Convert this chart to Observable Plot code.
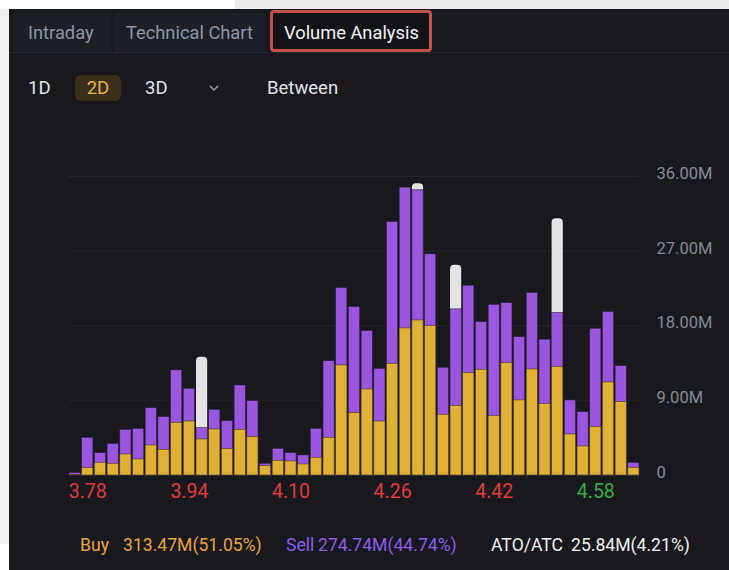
<!DOCTYPE html>
<html><head><meta charset="utf-8">
<script src="https://cdn.jsdelivr.net/npm/d3@7"></script>
<script src="https://cdn.jsdelivr.net/npm/@observablehq/plot@0.6"></script>
<style>
html,body{margin:0;padding:0;background:#ffffff;width:729px;height:570px;overflow:hidden;font-family:Roboto,"Noto Sans",sans-serif;position:relative;}
.abs{position:absolute;white-space:nowrap;}
#topstrip{left:235px;top:0;width:494px;height:9px;background:#ebebed;}
#leftstrip{left:0;top:9px;width:9px;height:535px;background:#f0eff1;}
#panel{left:9px;top:9px;width:720px;height:561px;background:#17191e;}
.tab{top:13px;height:39px;background:#1c1f25;border-radius:3px 3px 0 0;}
.tabtxt{top:21px;font-size:18.3px;line-height:24px;color:#8c96a3;}
#active{left:270px;top:10px;width:156px;height:36px;border:3px solid #c4504e;border-radius:4px;background:#111317;}
#sep{left:9px;top:52px;width:720px;height:1px;background:#25282e;}
.r2{top:76px;font-size:18.5px;line-height:24px;color:#e3e5e8;}
#pill{left:75px;top:75px;width:46px;height:26px;border-radius:6px;background:#3a2f1b;color:#e9b53a;text-align:center;line-height:26px;font-size:18.5px;}
#chart{left:0;top:150px;}
.lg{top:534px;font-size:17.6px;line-height:22px;}
</style></head>
<body>
<div id="topstrip" class="abs"></div>
<div id="leftstrip" class="abs"></div>
<div id="panel" class="abs"></div>
<div class="abs tab" style="left:14px;width:97px;"></div>
<div class="abs tab" style="left:114px;width:151px;"></div>
<div id="sep" class="abs"></div>
<div id="active" class="abs"></div>
<div class="abs tabtxt" style="left:28px;">Intraday</div>
<div class="abs tabtxt" style="left:126px;">Technical Chart</div>
<div class="abs tabtxt" style="left:284px;color:#f4f4f4;">Volume Analysis</div>
<div class="abs r2" style="left:28px;">1D</div>
<div id="pill" class="abs">2D</div>
<div class="abs r2" style="left:145px;">3D</div>
<svg class="abs" style="left:208px;top:83px;" width="12" height="10"><path d="M2 3 L6 7 L10 3" fill="none" stroke="#9aa0a8" stroke-width="1.5"/></svg>
<div class="abs r2" style="left:267px;">Between</div>
<div id="chart" class="abs"></div>
<div class="abs lg" style="left:80px;color:#e9a43c;">Buy</div>
<div class="abs lg" style="left:123px;color:#e9a43c;">313.47M(51.05%)</div>
<div class="abs lg" style="left:286px;color:#8e5ce9;">Sell</div>
<div class="abs lg" style="left:318px;color:#8e5ce9;">274.74M(44.74%)</div>
<div class="abs lg" style="left:491px;color:#f2f2f2;">ATO/ATC</div>
<div class="abs lg" style="left:571px;color:#f2f2f2;">25.84M(4.21%)</div>
<script>
const prices = ["3.76","3.78","3.80","3.82","3.84","3.86","3.88","3.90","3.92","3.94",
  "3.96","3.98","4.00","4.02","4.04","4.06","4.08","4.10","4.12","4.14",
  "4.16","4.18","4.20","4.22","4.24","4.26","4.28","4.30","4.32","4.34",
  "4.36","4.38","4.40","4.42","4.44","4.46","4.48","4.50","4.52","4.54",
  "4.56","4.58","4.60","4.62","4.64"];
const buyVol = [0.05,0.88,1.53,1.41,2.53,1.93,3.61,3.09,6.35,6.5,
  4.34,5.54,3.17,5.5,4.62,1.12,1.77,1.69,1.33,2.13,
  4.54,13.25,7.51,10.36,6.5,13.45,17.71,18.67,17.99,7.31,
  8.35,12.33,12.73,7.15,13.53,9.04,12.77,8.63,13.05,4.94,
  3.49,5.82,11.2,8.84,0.92];
const sellVol = [0.25,3.66,1.16,2.4,2.97,3.69,4.5,3.94,6.3,3.94,
  1.36,2.37,3.38,5.34,4.34,0.29,1.44,1.0,1.08,3.49,
  9.23,9.32,12.77,7.03,6.35,17.07,16.95,15.67,8.64,5.66,
  11.65,10.52,5.74,13.41,7.23,7.63,9.2,7.72,6.51,4.1,
  4.14,11.85,8.48,4.33,0.61];
const atoVol = [0,0,0,0,0,0,0,0,0,0,
  8.55,0,0,0,0,0,0,0,0,0,
  0,0,0,0,0,0,0,0.8,0,0,
  5.3,0,0,0,0,0,0,0,11.36,0,
  0,0,0,0,0];
const xTicks = ["3.78","3.94","4.10","4.26","4.42","4.58"];
const xTickColors = ["#e23b3b","#e23b3b","#e23b3b","#e23b3b","#e23b3b","#3daa47"];
const yTicks = [0,9,18,27,36];
const yTickLabels = ["0","9.00M","18.00M","27.00M","36.00M"];

const rows = prices.map((p,i)=>({p, buy:buyVol[i], top:buyVol[i]+sellVol[i], total:buyVol[i]+sellVol[i]+atoVol[i], ato:atoVol[i]}));

const chart = Plot.plot({
  width:729, height:365,
  marginLeft:69, marginRight:90, marginTop:26, marginBottom:40,
  style:{background:"transparent", fontFamily:"Roboto, sans-serif", overflow:"visible"},
  x:{type:"band", domain:prices, paddingInner:0.12, paddingOuter:0, align:0.5, axis:null},
  y:{domain:[0,36], axis:null},
  color:{type:"identity"},
  marks:[
    Plot.ruleY(yTicks, {y:d=>d, stroke:"#23262c", strokeWidth:1}),
    Plot.barY(rows.filter(d=>d.ato>0), {x:"p", y1:0, y2:"total", fill:"#e3e3e3", rx:4}),
    Plot.barY(rows, {x:"p", y1:0, y2:"top", fill:"#9a56df", stroke:"#2b2238", strokeWidth:0.6}),
    Plot.barY(rows, {x:"p", y1:0, y2:"buy", fill:"#e0b136", stroke:"#4a3d1a", strokeWidth:0.6}),
    Plot.text(yTicks, {y:d=>d, text:(d,i)=>yTickLabels[i], frameAnchor:"right", textAnchor:"start", dx:17, dy:-3, fill:"#868a92", fontSize:16.5}),
    Plot.text(xTicks, {x:d=>d, text:d=>d, frameAnchor:"bottom", dy:22, fill:(d,i)=>xTickColors[i], fontSize:19.5})
  ]
});
document.getElementById("chart").appendChild(chart);
</script>
</body></html>
